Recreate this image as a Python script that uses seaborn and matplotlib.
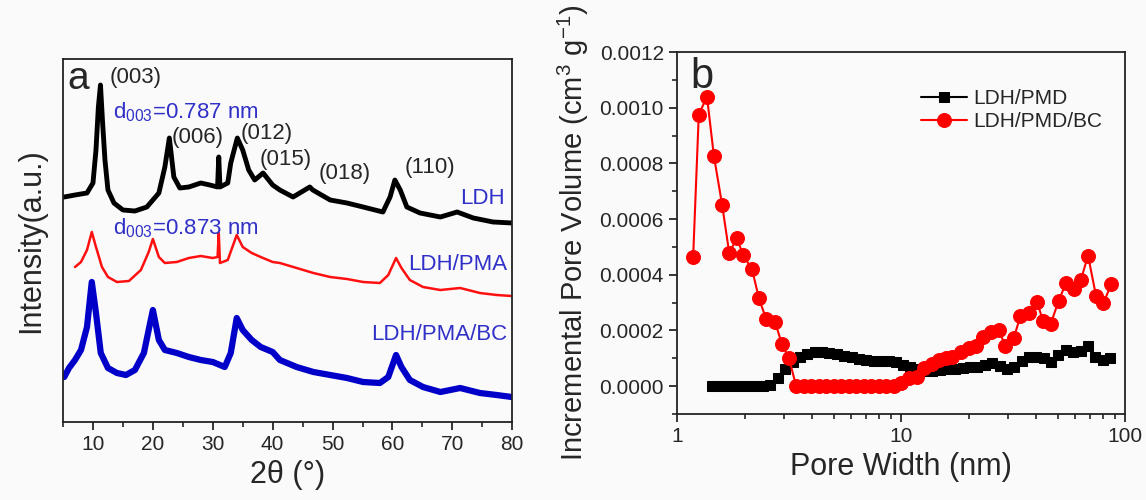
import numpy as np
import pandas as pd
import seaborn as sns
import matplotlib.pyplot as plt
import matplotlib.ticker as mticker

# ---- panel a : XRD (heights in a.u., curves already offset) ----
ldh_x = [5.2, 7, 9, 10.0, 10.5, 10.9, 11.25, 11.6, 12.0, 12.5, 13.5, 15, 17, 19, 21, 22, 22.75,
         23.5, 24.5, 26, 28, 29.5, 30.8, 31.0, 31.2, 32.5, 33, 34.1, 35, 36, 37, 38.4, 40, 41.2,
         43.4, 46.2, 46.7, 49.6, 52.4, 55.1, 58.4, 59.6, 60.4, 61.3, 62.4, 64.6, 68, 70.8,
         73.5, 76.8, 80]
ldh_y = [225, 227, 229, 239, 272, 315, 337, 300, 262, 232, 219, 212, 211, 215, 229, 255, 284,
         245, 234, 235, 239, 237, 235, 265, 235, 239, 259, 284, 272, 252, 242, 249, 237, 232,
         225, 235, 232, 222, 219, 215, 210, 225, 242, 232, 215, 209, 205, 210,
         204, 200, 199]

pma_x = [7.0, 8.0, 9.0, 9.8, 10.5, 11.5, 12.5, 14, 16, 18, 19.3, 20, 21, 22, 24, 26, 28, 30,
         30.8, 31.0, 31.2, 32.5, 34, 35, 36.5, 38, 40, 41.2, 44, 46.8, 49.6, 52.4, 55.1, 57.9,
         59.3, 60.6, 61.5, 62.9, 65.1, 68, 71.3, 74.6, 77.4, 79.9]
pma_y = [155, 160, 172, 190, 175, 155, 145, 140, 141, 152, 170, 183, 165, 159, 160, 164, 166, 164,
         165, 189, 159, 162, 187, 175, 169, 165, 160, 159, 154, 149, 145, 143, 140, 139,
         147, 164, 154, 142, 135, 132, 134, 129, 127, 126]

bc_x = [5.2, 6, 7, 8, 9, 9.8, 10.5, 11.3, 12.5, 14, 15.5, 17, 18.5, 19.4, 20, 21, 22, 24, 26,
        28, 30, 32, 33, 34, 35, 36.5, 38, 40, 41.2, 44, 46.8, 49.6, 52.4, 55.1, 57.9, 59.3,
        60.6, 61.5, 62.9, 65.1, 68, 71.3, 74.6, 77.4, 79.9]
bc_y = [45, 54, 62, 72, 95, 140, 109, 69, 54, 49, 47, 52, 69, 95, 112, 82, 72, 69, 65,
        62, 60, 55, 69, 104, 92, 82, 75, 70, 62, 55, 50, 47, 44, 40, 39, 45,
        67, 55, 42, 35, 30, 34, 29, 27, 25]

# ---- panel b : pore size distribution ----
pmd_w = [1.43, 1.54, 1.66, 1.79, 1.93, 2.08, 2.25, 2.42, 2.61, 2.82, 3.04, 3.28, 3.54, 3.82,
         4.12, 4.44, 4.79, 5.17, 5.58, 6.02, 6.49, 7.0, 7.56, 8.15, 8.8, 9.5, 10.2, 11.0, 11.9,
         12.8, 13.8, 14.9, 16.1, 17.4, 18.8, 20.3, 21.9, 23.6, 25.5, 27.5, 29.6, 32.0, 34.5,
         37.2, 40.1, 43.3, 46.7, 50.4, 54.4, 58.7, 63.3, 68.3, 73.7, 79.5, 85.8]
pmd_v = [0, 0, 0, 0, 0, 0, 0, 0, 0.000005, 0.00003, 0.00006, 0.000085, 0.000105, 0.000117,
         0.000122, 0.000122, 0.00012, 0.000115, 0.00011, 0.000104, 0.000098, 0.000093, 0.000091,
         0.000091, 0.00009, 0.000085, 0.000076, 0.000068, 0.00006, 0.000056, 0.000055, 0.000057,
         0.00006, 0.000063, 0.000065, 0.000067, 0.00007, 0.000077, 0.000082, 0.000073, 0.00006,
         0.000068, 0.000092, 0.000103, 0.000105, 0.0001, 0.000085, 0.000112, 0.00013, 0.000122,
         0.000128, 0.000145, 0.000106, 0.000095, 0.000102]

bc_w = [1.18, 1.25, 1.36, 1.46, 1.59, 1.71, 1.85, 1.97, 2.16, 2.32, 2.5, 2.74, 2.94, 3.16, 3.4,
        3.67, 3.97, 4.28, 4.63, 5.0, 5.4, 5.83, 6.3, 6.8, 7.36, 7.96, 8.58, 9.27, 10.0, 10.9,
        11.8, 12.7, 13.8, 14.8, 15.8, 16.9, 18.5, 20.1, 21.5, 23.2, 25.1, 27.3, 29.2, 31.8,
        34.1, 37.1, 40.5, 43.0, 46.6, 50.5, 54.6, 59.2, 63.4, 68.3, 74.1, 79.8, 86.9]
bc_v = [0.000465, 0.000975, 0.00104, 0.000827, 0.00065, 0.000478, 0.000532, 0.000471, 0.00042,
        0.000316, 0.00024, 0.00023, 0.00015, 0.0001, 0, 0, 0, 0, 0, 0, 0, 0, 0, 0, 0, 0, 0, 0,
        0.000012, 0.000031, 0.000034, 0.000065, 0.000079, 0.000094, 0.0001, 0.000103, 0.000123,
        0.000136, 0.000144, 0.000177, 0.000195, 0.000201, 0.000144, 0.000172, 0.000252,
        0.000264, 0.000301, 0.000234, 0.000225, 0.000307, 0.000372, 0.000349, 0.000381,
        0.000469, 0.000325, 0.000297, 0.000367]

sns.set_style('ticks')
plt.rcParams['font.family'] = ['Liberation Sans', 'DejaVu Sans']
plt.rcParams['mathtext.fontset'] = 'custom'
plt.rcParams['mathtext.rm'] = 'Liberation Sans'
plt.rcParams['mathtext.it'] = 'Liberation Sans'

BLUE = '#0000c8'
TXT_BLUE = '#3030c8'

fig = plt.figure(figsize=(11.46, 5.0), dpi=100, facecolor='#fafafa')
ax1 = fig.add_axes([0.055, 0.156, 0.392, 0.726])
ax2 = fig.add_axes([0.5908, 0.172, 0.391, 0.724])

for ax in (ax1, ax2):
    ax.set_facecolor('#fafafa')
    for s in ax.spines.values():
        s.set_linewidth(1.3)
        s.set_color('#222222')

# panel a
sns.lineplot(x=ldh_x, y=ldh_y, sort=False, color='black', lw=3.5, ax=ax1)
sns.lineplot(x=pma_x, y=pma_y, sort=False, color='#ff1010', lw=1.8, ax=ax1)
sns.lineplot(x=bc_x, y=bc_y, sort=False, color=BLUE, lw=4.5, ax=ax1)

ax1.set_xlim(5, 80)
ax1.set_ylim(0, 363)
ax1.set_yticks([])
ax1.xaxis.set_major_locator(mticker.MultipleLocator(10))
ax1.xaxis.set_minor_locator(mticker.MultipleLocator(5))
ax1.set_xticks([10, 20, 30, 40, 50, 60, 70, 80])
ax1.tick_params(axis='x', which='major', direction='out', length=6, width=1.3, labelsize=15)
ax1.tick_params(axis='x', which='minor', direction='out', length=3.5, width=1.2)
ax1.set_xlabel('2θ (°)', fontsize=22)
ax1.set_ylabel('Intensity(a.u.)', fontsize=22, labelpad=12)

ax1.text(5.7, 333, 'a', fontsize=28)
fs = 16
ax1.text(12.8, 344, '(003)', fontsize=fs, va='center')
ax1.text(13.3, 310, 'd$_{003}$=0.787 nm', fontsize=fs, va='center', color=TXT_BLUE)
ax1.text(23.2, 284, '(006)', fontsize=fs, va='center')
ax1.text(34.7, 289, '(012)', fontsize=fs, va='center')
ax1.text(37.9, 262, '(015)', fontsize=fs, va='center')
ax1.text(47.6, 249, '(018)', fontsize=fs, va='center')
ax1.text(62.1, 254, '(110)', fontsize=fs, va='center')
ax1.text(78.8, 224, 'LDH', fontsize=fs, va='center', ha='right', color=TXT_BLUE)
ax1.text(13.3, 194, 'd$_{003}$=0.873 nm', fontsize=fs, va='center', color=TXT_BLUE)
ax1.text(79.1, 157, 'LDH/PMA', fontsize=fs, va='center', ha='right', color=TXT_BLUE)
ax1.text(79.1, 87, 'LDH/PMA/BC', fontsize=fs, va='center', ha='right', color=TXT_BLUE)

# panel b
sns.lineplot(x=pmd_w, y=pmd_v, sort=False, color='black', lw=1.5, marker='s',
             markersize=7, markeredgecolor='black', label='LDH/PMD', ax=ax2)
sns.lineplot(x=bc_w, y=bc_v, sort=False, color='#ff0000', lw=1.5, marker='o',
             markersize=10, markeredgecolor='#ff0000', label='LDH/PMD/BC', ax=ax2)

ax2.set_xscale('log')
ax2.set_xlim(1, 100)
ax2.set_ylim(-0.0001, 0.0012)
ax2.xaxis.set_major_locator(mticker.LogLocator(base=10))
ax2.xaxis.set_major_formatter(mticker.FuncFormatter(lambda v, p: f'{v:g}'))
ax2.yaxis.set_major_locator(mticker.MultipleLocator(0.0002))
ax2.yaxis.set_minor_locator(mticker.MultipleLocator(0.0001))
ax2.yaxis.set_major_formatter(mticker.FormatStrFormatter('%.4f'))
ax2.tick_params(which='major', direction='out', length=6, width=1.3, labelsize=15)
ax2.tick_params(which='minor', direction='out', length=3.5, width=1.2)
ax2.set_xlabel('Pore Width (nm)', fontsize=22)
ax2.set_ylabel('Incremental Pore Volume (cm$^{3}$ g$^{-1}$)', fontsize=21, labelpad=6)
ax2.text(0.03, 0.985, 'b', transform=ax2.transAxes, fontsize=30, va='top')
ax2.legend(loc='upper right', bbox_to_anchor=(0.99, 0.95), frameon=False, fontsize=15,
           handlelength=2.2, handletextpad=0.3, labelspacing=0.2)

fig.savefig('out.png', dpi=100, facecolor=fig.get_facecolor())
